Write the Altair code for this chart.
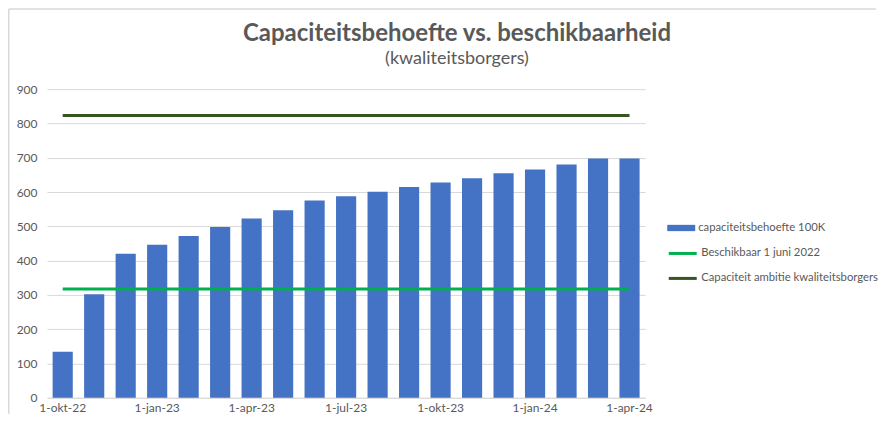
import altair as alt
import pandas as pd

months = ["1-okt-22", "1-nov-22", "1-dec-22", "1-jan-23", "1-feb-23", "1-mrt-23",
          "1-apr-23", "1-mei-23", "1-jun-23", "1-jul-23", "1-aug-23", "1-sep-23",
          "1-okt-23", "1-nov-23", "1-dec-23", "1-jan-24", "1-feb-24", "1-mrt-24",
          "1-apr-24"]
behoefte = [134, 302, 420, 446, 472, 498, 523, 547, 575, 588, 601, 615,
            628, 640, 655, 666, 680, 698, 698]
beschikbaar = [317] * 19
ambitie = [823] * 19
tick_labels = ["1-okt-22", "1-jan-23", "1-apr-23", "1-jul-23", "1-okt-23", "1-jan-24", "1-apr-24"]
series_names = ["capaciteitsbehoefte 100K", "Beschikbaar 1 juni 2022",
                "Capaciteit ambitie kwaliteitsborgers"]
series_colors = ["#4472C4", "#00B050", "#375623"]
y_ticks = [0, 100, 200, 300, 400, 500, 600, 700, 800, 900]

rows = []
for name, vals in zip(series_names, [behoefte, beschikbaar, ambitie]):
    for m, v in zip(months, vals):
        rows.append({"month": m, "series": name, "value": v})
df = pd.DataFrame(rows)

FONT = "Lato"
GREY = "#595959"

bar_shape = "M-2,-0.45H2V0.45H-2Z"
line_shape = "M-2,0H2"

fill_legend = alt.Legend(
    title=None, orient="none", legendX=628, legendY=132,
    symbolType=bar_shape, symbolSize=196, labelOffset=10, rowPadding=10,
    symbolStrokeWidth=0, symbolOpacity=1,
    labelFont=FONT, labelFontSize=11.3, labelColor=GREY, labelLimit=300)
stroke_legend = alt.Legend(
    title=None, orient="none", legendX=628, legendY=156,
    symbolType=line_shape, symbolSize=196, labelOffset=10, rowPadding=10,
    symbolStrokeWidth=3, symbolOpacity=1,
    labelFont=FONT, labelFontSize=11.3, labelColor=GREY, labelLimit=300)

x = alt.X("month:O", sort=months, title=None,
          scale=alt.Scale(paddingInner=0.36, paddingOuter=0.18),
          axis=alt.Axis(values=tick_labels, labelAngle=0, ticks=False, grid=False,
                        domainColor="#D9D9D9", labelPadding=5, labelFont=FONT,
                        labelFontSize=12, labelColor=GREY))
y = alt.Y("value:Q", title=None,
          scale=alt.Scale(domain=[0, 900], nice=False),
          axis=alt.Axis(values=y_ticks, ticks=False, domain=False, gridColor="#D9D9D9",
                        labelPadding=10, labelFont=FONT, labelFontSize=12, labelColor=GREY))

base = alt.Chart(df)
bars = base.mark_bar().encode(
    x=x, y=y,
    fill=alt.Fill("series:N", scale=alt.Scale(domain=series_names[:1], range=series_colors[:1]),
                  legend=fill_legend),
).transform_filter(alt.datum.series == series_names[0])
lines = base.mark_line(strokeWidth=3).encode(
    x=x, y=y,
    stroke=alt.Stroke("series:N", scale=alt.Scale(domain=series_names[1:], range=series_colors[1:]),
                      legend=stroke_legend),
).transform_filter(alt.datum.series != series_names[0])

frame_df = pd.DataFrame({"a": [0]})
left_frame = alt.Chart(frame_df).mark_rule(color="#D9D9D9", strokeWidth=1.5).encode(
    x=alt.value(-38.25), y=alt.value(-80.25), y2=alt.value(325))
top_frame = alt.Chart(frame_df).mark_rule(color="#D9D9D9", strokeWidth=1.5).encode(
    x=alt.value(-38.25), x2=alt.value(830), y=alt.value(-80.25))

chart = alt.layer(bars, lines, left_frame, top_frame).properties(
    width=599, height=309,
    title=alt.TitleParams(
        text="Capaciteitsbehoefte vs. beschikbaarheid",
        subtitle="(kwaliteitsborgers)",
        anchor="middle", dx=111, offset=-60,
        font=FONT, fontSize=24, fontWeight="bold", color=GREY,
        subtitleFont=FONT, subtitleFontSize=18, subtitleColor=GREY, subtitlePadding=4,
    ),
    padding=0,
    background="white",
).configure_view(stroke=None)

chart.save("out.html", embed_options={"renderer": "svg", "actions": False})
